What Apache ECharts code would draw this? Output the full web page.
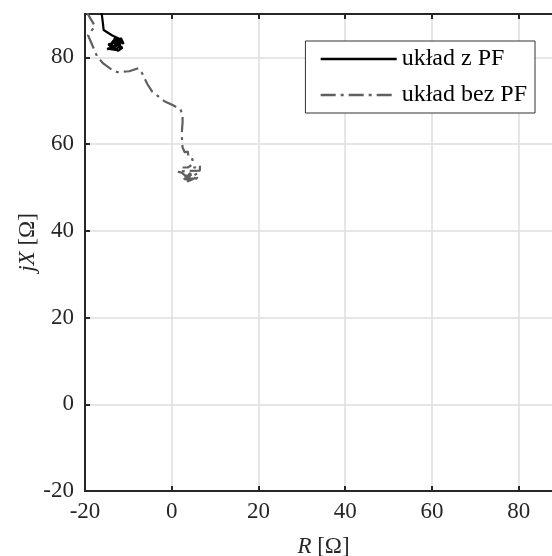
<!DOCTYPE html>
<html>
<head>
<meta charset="utf-8">
<script src="https://cdn.jsdelivr.net/npm/echarts@6/dist/echarts.min.js"></script>
<style>
  html, body { margin: 0; padding: 0; background: #fff; }
</style>
</head>
<body>
<div id="main" style="width:552px;height:556px"></div>
<script type="text/javascript">
    // impedance trajectories, [R, X] in ohm
    var withPF = [
        [-16.2, 90.5], [-15.9, 88.1], [-15.7, 86.3], [-13.8, 85.1], [-11.5, 84.0], [-11.1, 83.1],
        [-11.3, 83.0], [-12.5, 84.2], [-13.2, 82.5], [-14.8, 82.0], [-15.2, 81.6], [-13.0, 81.7],
        [-12.0, 82.6], [-11.6, 84.4], [-13.5, 83.8], [-14.2, 82.8], [-12.4, 81.5], [-11.4, 82.2],
        [-12.8, 83.5], [-14.6, 83.0], [-13.6, 81.9], [-12.2, 83.9], [-11.8, 81.9], [-13.1, 84.5],
        [-14.0, 82.2], [-12.6, 82.9], [-14.9, 81.8], [-11.9, 83.4], [-13.4, 82.1]
    ];
    var withoutPF = [
        [-19.7, 90.6], [-17.7, 87.2], [-19.3, 85.1], [-17.2, 80.2], [-15.8, 78.6], [-14.0, 77.3],
        [-12.6, 76.6], [-9.8, 76.8], [-7.7, 77.5], [-6.8, 76.3], [-5.6, 73.8], [-4.5, 72.1],
        [-1.7, 69.9], [0.2, 69.0], [2.0, 68.0], [2.5, 66.8], [2.5, 65.0], [2.3, 62.2],
        [2.5, 59.2], [3.0, 58.1], [3.7, 58.3], [3.9, 56.9], [4.8, 56.5], [4.8, 55.3],
        [3.7, 54.6], [2.5, 54.6], [6.0, 54.6], [6.5, 55.1], [6.5, 53.9], [1.3, 53.7],
        [2.3, 53.4], [4.0, 52.0], [5.8, 53.2], [3.0, 52.6], [5.0, 51.5], [6.2, 52.5],
        [3.6, 51.4], [4.6, 53.6], [2.8, 51.9], [5.5, 52.1], [4.2, 52.8]
    ];
    var seriesNames = ['układ z PF', 'układ bez PF'];

    var font = 'Liberation Serif';
    var axisColor = '#262626';
    var gridColor = '#dedede';

    var myChart = echarts.init(document.getElementById('main'));
    var option = {
        animation: false,
        backgroundColor: '#fff',
        grid: {
            left: 85,
            right: -10,
            top: 14,
            bottom: 65,
            outerBoundsMode: 'none',
            containLabel: false,
            show: true,
            borderColor: axisColor,
            borderWidth: 2
        },
        legend: {
            orient: 'vertical',
            right: 17,
            top: 41,
            data: seriesNames,
            itemWidth: 76,
            itemHeight: 20,
            itemGap: 12,
            padding: [6, 8, 6, 14],
            backgroundColor: '#fff',
            borderColor: '#333',
            borderWidth: 1,
            borderRadius: 0,
            itemStyle: { opacity: 0 },
            lineStyle: { width: 2.5 },
            textStyle: { fontFamily: font, fontSize: 24, color: '#000' }
        },
        xAxis: [
            {
                type: 'value',
                min: -20,
                max: 90,
                interval: 20,
                name: '{i|R} [Ω]',
                nameLocation: 'middle',
                nameGap: 44,
                nameMoveOverlap: false,
                nameTextStyle: {
                    fontFamily: font, fontSize: 23, color: axisColor,
                    rich: { i: { fontFamily: font, fontSize: 23, fontStyle: 'italic', color: axisColor } }
                },
                axisLine: { show: true, onZero: false, lineStyle: { color: axisColor, width: 2 } },
                axisTick: { show: true, inside: true, length: 5, lineStyle: { color: axisColor, width: 2 } },
                axisLabel: { showMaxLabel: false, margin: 9, fontFamily: font, fontSize: 23, color: axisColor },
                splitLine: { show: true, lineStyle: { color: gridColor, width: 1.5 } }
            },
            {
                type: 'value',
                position: 'top',
                min: -20,
                max: 90,
                interval: 20,
                axisLine: { show: true, onZero: false, lineStyle: { color: axisColor, width: 2 } },
                axisTick: { show: true, inside: true, length: 5, lineStyle: { color: axisColor, width: 2 } },
                axisLabel: { show: false },
                splitLine: { show: false }
            }
        ],
        yAxis: {
            type: 'value',
            min: -20,
            max: 90,
            interval: 20,
            name: '{i|jX} [Ω]',
            nameLocation: 'middle',
            nameGap: 46,
            nameMoveOverlap: false,
            nameTextStyle: {
                fontFamily: font, fontSize: 23, color: axisColor,
                padding: [0, 0, 0, 20],
                rich: { i: { fontFamily: font, fontSize: 23, fontStyle: 'italic', color: axisColor } }
            },
            axisLine: { show: true, onZero: false, lineStyle: { color: axisColor, width: 2 } },
            axisTick: { show: true, inside: true, length: 5, lineStyle: { color: axisColor, width: 2 } },
            axisLabel: { showMaxLabel: false, margin: 11, fontFamily: font, fontSize: 23, color: axisColor },
            splitLine: { show: true, lineStyle: { color: gridColor, width: 1.5 } }
        },
        series: [
            {
                name: seriesNames[0],
                type: 'line',
                symbol: 'none',
                clip: true,
                data: withPF,
                lineStyle: { color: '#000', width: 2.2 },
                itemStyle: { color: '#000' },
                z: 3
            },
            {
                name: seriesNames[1],
                type: 'line',
                symbol: 'none',
                clip: true,
                data: withoutPF,
                lineStyle: { color: '#606060', width: 2.2, type: [15, 5, 3, 5] },
                itemStyle: { color: '#606060' },
                z: 2
            }
        ]
    };
    myChart.setOption(option);
</script>
</body>
</html>
